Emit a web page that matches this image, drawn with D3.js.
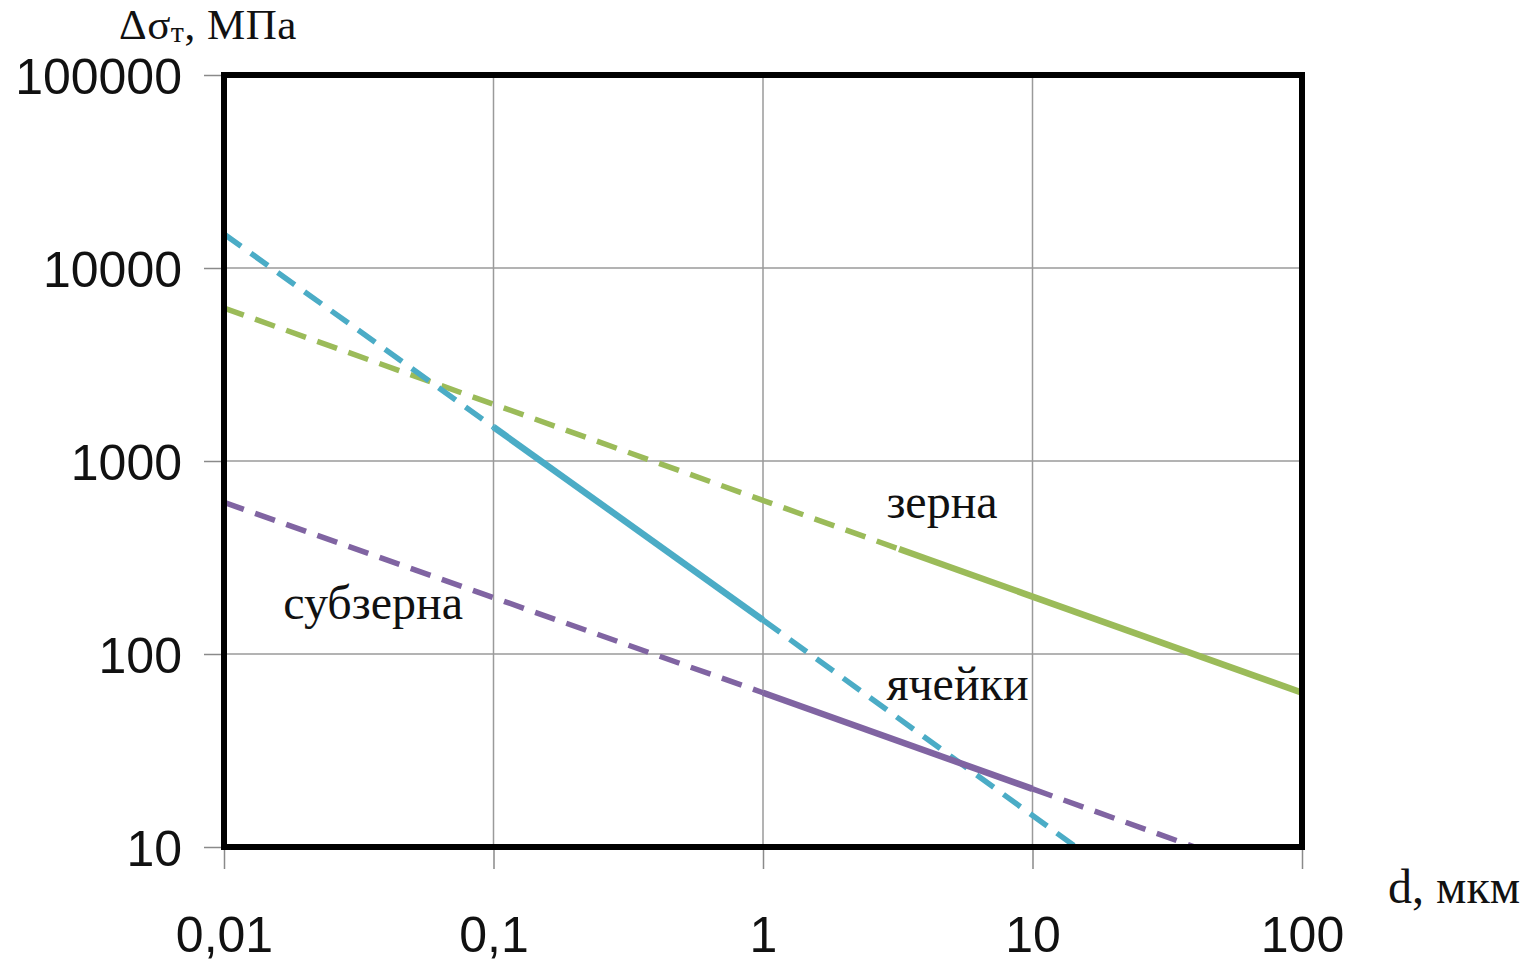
<!DOCTYPE html>
<html>
<head>
<meta charset="utf-8">
<script src="https://cdn.jsdelivr.net/npm/d3@7"></script>
<style>
  html, body { margin: 0; padding: 0; background: #fff; }
  svg { display: block; }
  .tick text { font-family: "Liberation Sans", Arial, sans-serif; fill: #111; }
  .serif { font-family: "Liberation Serif", "Times New Roman", serif; fill: #111; }
</style>
</head>
<body>
<svg id="chart"></svg>
<script>
// axis ticks
const xTicks = [0.01, 0.1, 1, 10, 100];
const xTickLabels = ["0,01", "0,1", "1", "10", "100"];
const yTicks = [10, 100, 1000, 10000, 100000];
const yTickLabels = ["10", "100", "1000", "10000", "100000"];

// зерна (green): d, мкм -> Δσ, МПа ; dashed flag for each segment
const grainD = [0.01, 3.2, 100];
const grainS = [6200, 350, 63];
const grainDash = [true, false];

// cyan line
const cellD = [0.01, 0.1, 1, 14.5];
const cellS = [15000, 1500, 150, 10];
const cellDash = [true, false, true];

// purple line
const subD = [0.01, 1, 10, 40];
const subS = [610, 63, 20, 10];
const subDash = [true, false, true];

const series = [
  {d: grainD, s: grainS, dash: grainDash, color: "#9bbb59"},
  {d: cellD, s: cellS, dash: cellDash, color: "#4bacc6"},
  {d: subD, s: subS, dash: subDash, color: "#8064a2"}
];

const labels = [
  {text: "зерна", d: 2.87, s: 600},
  {text: "ячейки", d: 2.87, s: 69},
  {text: "субзерна", d: 0.0166, s: 180}
];

const W = 1531, H = 963;
const margin = {top: 75, right: 229, bottom: 116, left: 224};
const w = W - margin.left - margin.right;
const h = H - margin.top - margin.bottom;

const root = d3.select("#chart").attr("width", W).attr("height", H);
const svg = root.append("g").attr("transform", `translate(${margin.left}, ${margin.top})`);

const x = d3.scaleLog().domain([0.01, 100]).range([0, w]);
const y = d3.scaleLog().domain([10, 100000]).range([h, 0]);

// grid
svg.append("g").selectAll("line").data(xTicks).enter().append("line")
  .attr("x1", d => x(d)).attr("x2", d => x(d)).attr("y1", 0).attr("y2", h)
  .attr("stroke", "#9a9a9a").attr("stroke-width", 1.5);
svg.append("g").selectAll("line").data(yTicks).enter().append("line")
  .attr("x1", 0).attr("x2", w).attr("y1", d => y(d)).attr("y2", d => y(d))
  .attr("stroke", "#9a9a9a").attr("stroke-width", 1.5);

// axes
const xAxis = d3.axisBottom(x).tickValues(xTicks)
  .tickFormat((d, i) => xTickLabels[i]).tickSize(22).tickPadding(47);
const yAxis = d3.axisLeft(y).tickValues(yTicks)
  .tickFormat((d, i) => yTickLabels[i]).tickSize(20).tickPadding(22);

const gx = svg.append("g").attr("transform", `translate(0, ${h})`).call(xAxis);
const gy = svg.append("g").call(yAxis);
[gx, gy].forEach(g => {
  g.select(".domain").remove();
  g.selectAll(".tick line").attr("stroke", "#8a8a8a").attr("stroke-width", 1.5);
  g.selectAll(".tick text").style("font-size", "50px");
});
gy.selectAll(".tick text").attr("dy", "0.36em");

// lines
const line = d3.line().x(p => x(p[0])).y(p => y(p[1]));
root.append("defs").append("clipPath").attr("id", "plot")
  .append("rect").attr("width", w).attr("height", h);
const lg = svg.append("g").attr("clip-path", "url(#plot)");
series.forEach(sr => {
  sr.dash.forEach((dashed, i) => {
    lg.append("path")
      .datum([[sr.d[i], sr.s[i]], [sr.d[i + 1], sr.s[i + 1]]])
      .attr("d", line)
      .attr("fill", "none")
      .attr("stroke", sr.color)
      .attr("stroke-width", dashed ? 5.5 : 6.5)
      .attr("stroke-dasharray", dashed ? "21,12" : null);
  });
});

// frame
svg.append("rect").attr("width", w).attr("height", h)
  .attr("fill", "none").attr("stroke", "#000").attr("stroke-width", 6);

// annotations
svg.selectAll(".lbl").data(labels).enter().append("text")
  .attr("class", "serif lbl")
  .attr("x", d => x(d.d)).attr("y", d => y(d.s))
  .attr("dy", "0.3em")
  .style("font-size", "48px")
  .text(d => d.text);

// axis titles
const yTitle = root.append("text").attr("class", "serif")
  .attr("x", 119).attr("y", 39).style("font-size", "43px")
  .style("letter-spacing", "0.5px");
yTitle.append("tspan").text("Δσ");
yTitle.append("tspan").attr("baseline-shift", "-10%").style("font-size", "30px").text("т");
yTitle.append("tspan").text(", МПа");

root.append("text").attr("class", "serif")
  .attr("x", 1388).attr("y", 903).style("font-size", "48px")
  .text("d, мкм");
</script>
</body>
</html>
